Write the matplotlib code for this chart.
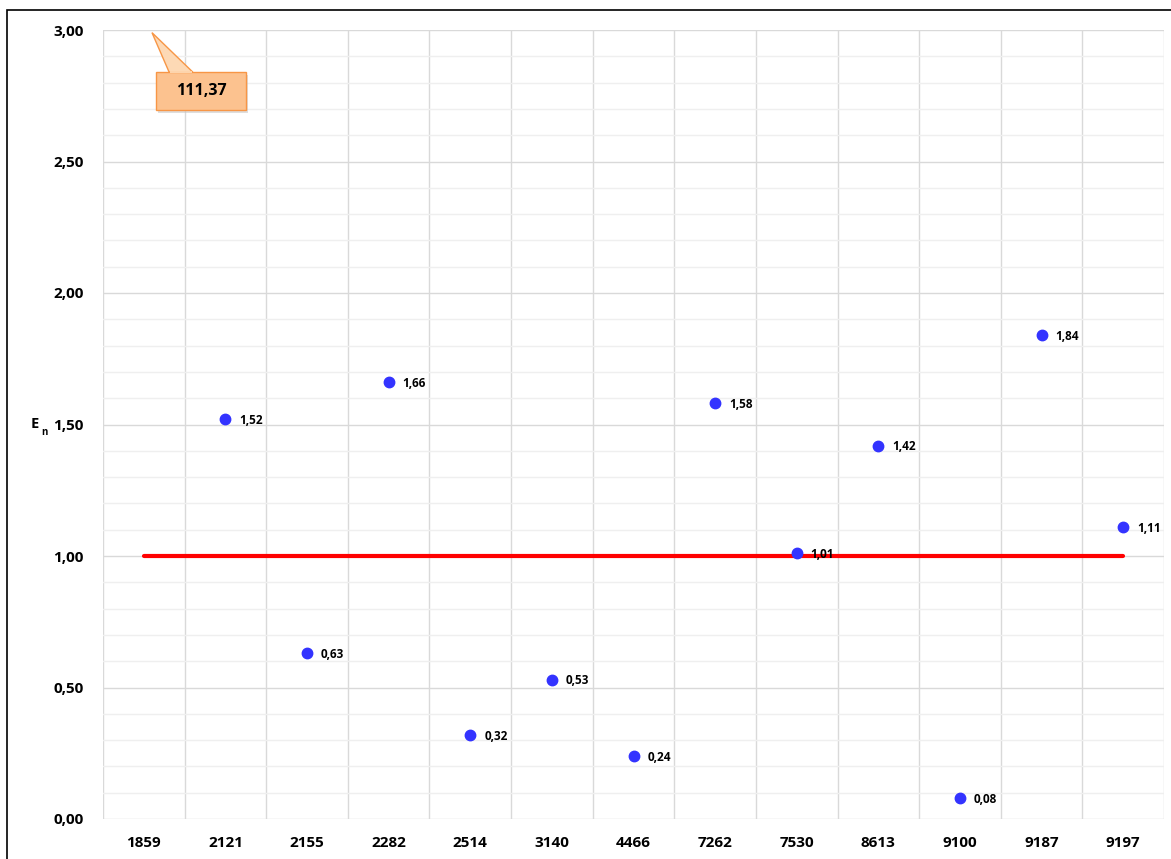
import matplotlib.pyplot as plt
from matplotlib.ticker import MultipleLocator, FuncFormatter
from matplotlib.patches import Rectangle, Polygon

plt.rcParams['font.family'] = ['Open Sans', 'DejaVu Sans']

labs = ['1859', '2121', '2155', '2282', '2514', '3140', '4466',
        '7262', '7530', '8613', '9100', '9187', '9197']
en = [111.37, 1.52, 0.63, 1.66, 0.32, 0.53, 0.24, 1.58, 1.01, 1.42, 0.08, 1.84, 1.11]
limit = [1.0] * len(labs)
y_max = 3.0

fig = plt.figure(figsize=(11.71, 8.59), dpi=100)
ax = fig.add_axes([103 / 1171, 40 / 859, 1061 / 1171, 789 / 859])

x = list(range(len(labs)))
ax.set_xlim(-0.5, len(labs) - 0.5)
ax.set_ylim(0, y_max)

# grid: category boundaries vertically, 0.5 major / 0.1 minor horizontally
for b in range(len(labs) + 1):
    ax.axvline(b - 0.5, color='#d9d9d9', lw=1, zorder=0)
ax.yaxis.set_major_locator(MultipleLocator(0.5))
ax.yaxis.set_minor_locator(MultipleLocator(0.1))
ax.grid(axis='y', which='major', color='#d9d9d9', lw=1, zorder=0)
ax.grid(axis='y', which='minor', color='#efefef', lw=1, zorder=0)
for s in ax.spines.values():
    s.set_visible(False)
ax.tick_params(which='both', length=0)
ax.tick_params(axis='y', pad=14)
ax.tick_params(axis='x', pad=12)
ax.set_xticks(x)
ax.set_xticklabels(labs, fontsize=11, fontweight='bold')
ax.yaxis.set_major_formatter(FuncFormatter(lambda v, p: f'{v:.2f}'.replace('.', ',')))
for t in ax.get_yticklabels():
    t.set_fontweight('bold')
    t.set_fontsize(11)

ax.plot(x, limit, color='#ff0000', lw=3, solid_capstyle='round', zorder=2)

for xi, v in zip(x, en):
    if v <= y_max:
        ax.plot(xi, v, 'o', color='#3333ff', ms=7.5, zorder=3)
        ax.annotate(f'{v:.2f}'.replace('.', ','), (xi, v), xytext=(10, -1),
                    textcoords='offset points', fontsize=8.5, fontweight='bold',
                    va='center', ha='left', zorder=4)
    else:
        # callout for the value that lies far above the axis
        box_l, box_r, box_b, box_t = xi + 0.15, xi + 1.25, 2.695, 2.84
        ax.add_patch(Rectangle((box_l + 0.03, box_b - 0.012), box_r - box_l, box_t - box_b,
                               fc='#c8c8c8', ec='none', alpha=0.6, zorder=4, clip_on=False))
        ax.add_patch(Polygon([(xi + 0.1, 2.99), (xi + 0.31, box_t), (xi + 0.6, box_t)],
                             closed=True, fc='#fdd9b5', ec='#f79646', lw=1, zorder=5,
                             clip_on=False))
        ax.add_patch(Rectangle((box_l, box_b), box_r - box_l, box_t - box_b,
                               fc='#fcc28f', ec='#f79646', lw=1, zorder=5, clip_on=False))
        ax.add_patch(Rectangle((xi + 0.315, box_t - 0.004), 0.28, 0.008,
                               fc='#fdd4ac', ec='none', zorder=6, clip_on=False))
        ax.text((box_l + box_r) / 2, (box_b + box_t) / 2, f'{v:.2f}'.replace('.', ','),
                fontsize=11.5, fontweight='bold', ha='center', va='center', zorder=7)

ax.text(-72 / 1061, 0.5, 'E', transform=ax.transAxes, fontsize=10.5, fontweight='bold',
        ha='left', va='center')
ax.text(-62 / 1061, 0.497, 'n', transform=ax.transAxes, fontsize=7, fontweight='bold',
        ha='left', va='top')

# outer chart frame
fig.patches.append(Rectangle((7 / 1171, -0.05), 1.2, (849 / 859) + 0.05,
                             transform=fig.transFigure, fill=False, ec='black', lw=1.2))

fig.savefig('out.png', dpi=100)
